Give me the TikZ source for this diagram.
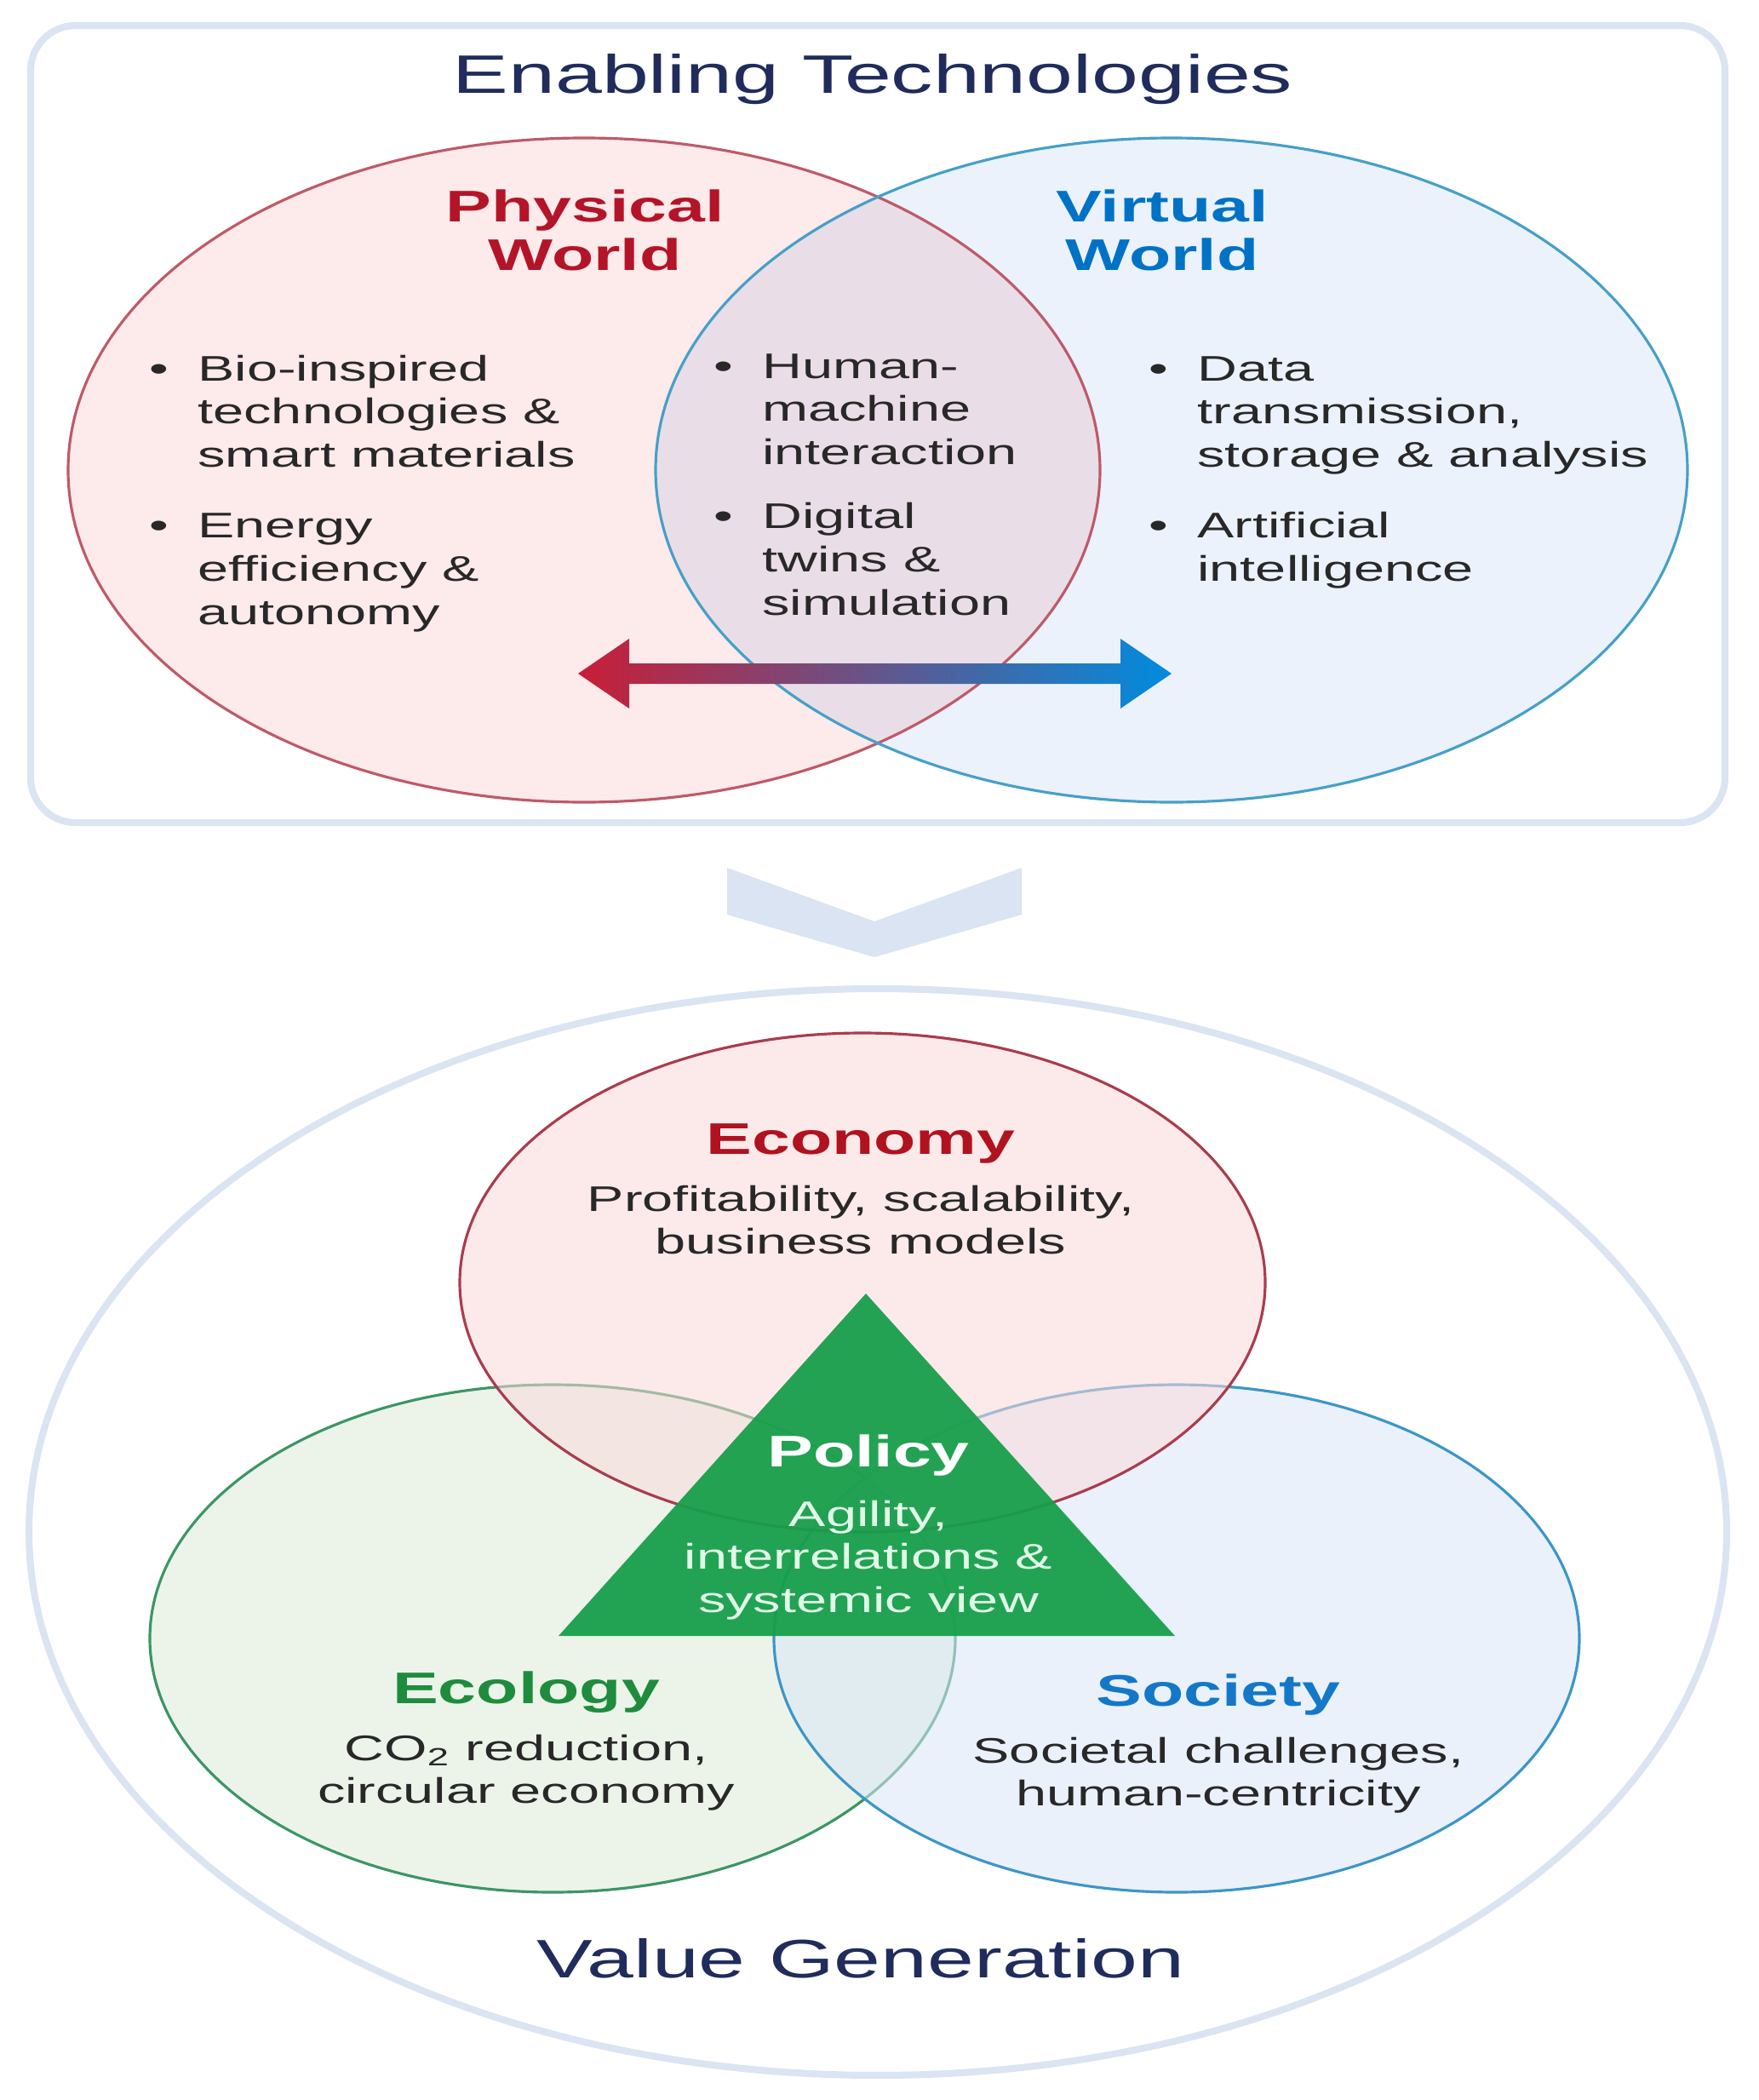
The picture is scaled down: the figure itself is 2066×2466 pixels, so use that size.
\documentclass[tikz,border=0pt]{standalone}
\usepackage{fontspec}
\setmainfont{Liberation Sans}[FakeStretch=1.55]
\definecolor{navy}{RGB}{31,44,92}
\definecolor{textc}{RGB}{40,40,40}
\definecolor{framec}{RGB}{218,228,242}
\definecolor{physred}{RGB}{180,20,40}
\definecolor{virtblue}{RGB}{0,114,198}
\definecolor{physc}{RGB}{190,90,105}
\definecolor{virtc}{RGB}{70,160,200}
\definecolor{physf}{RGB}{253,234,235}
\definecolor{virtf}{RGB}{235,242,251}
\definecolor{arrred}{RGB}{200,30,55}
\definecolor{arrblue}{RGB}{0,140,222}
\definecolor{econred}{RGB}{176,18,32}
\definecolor{ecogreen}{RGB}{30,140,60}
\definecolor{socblue}{RGB}{20,120,200}
\definecolor{econc}{RGB}{170,60,78}
\definecolor{ecoc}{RGB}{60,150,100}
\definecolor{socc}{RGB}{60,150,200}
\definecolor{econf}{RGB}{250,217,217}
\definecolor{ecof}{RGB}{220,235,217}
\definecolor{socf}{RGB}{217,230,248}
\definecolor{policyc}{RGB}{22,158,74}
\definecolor{poltext}{RGB}{225,250,232}
\newcommand{\titlefont}{\fontsize{18.1}{21}\selectfont}
\newcommand{\headfont}{\fontsize{14.8}{16.5}\selectfont\bfseries}
\newcommand{\bodyfont}{\fontsize{11.9}{14.5}\selectfont}
\newcommand{\stack}[1]{\begin{tabular}[t]{@{}c@{}}#1\end{tabular}}
\newcommand{\blist}[1]{\begin{tabular}[t]{@{}l@{\hspace{9.7pt}}l@{}}#1\end{tabular}}

\begin{document}
\begin{tikzpicture}[x=0.1mm, y=-0.1mm,
    frame/.style={draw=framec, line width=2.3pt},
    venn/.style={line width=0.9pt},
    circ/.style={line width=0.9pt, fill opacity=0.55},
    title/.style={font=\titlefont, text=navy, inner sep=0pt, anchor=base},
    head/.style={font=\headfont, inner sep=0pt, anchor=base},
    body/.style={font=\bodyfont, text=textc, inner sep=0pt, anchor=base},
    items/.style={font=\bodyfont, text=textc, inner sep=0pt, anchor=base west}]
  \useasboundingbox (0,0) rectangle (2066,2466);

  % enabling technologies
  \draw[frame, rounded corners=15pt] (36,30) rectangle (2026,966);
  \begin{scope}[blend mode=multiply]
    \fill[physf] (686,552) ellipse [x radius=606, y radius=390];
    \fill[virtf] (1376,552) ellipse [x radius=606, y radius=390];
  \end{scope}
  \draw[venn, physc] (686,552) ellipse [x radius=606, y radius=390];
  \draw[venn, virtc] (1376,552) ellipse [x radius=606, y radius=390];

  \node[title] (enab) at (1025,110) {Enabling Technologies};
  \node[head, text=physred] (phys) at (687,260) {\stack{Physical\\World}};
  \node[head, text=virtblue] (virt) at (1365,260) {\stack{Virtual\\World}};

  \node[items] (physL) at (175,447) {\blist{\textbullet & Bio-inspired\\
      & technologies \&\\ & smart materials\\[9pt]
      \textbullet & Energy\\ & efficiency \&\\ & autonomy}};
  \node[items] (both) at (838,444) {\blist{\textbullet & Human-\\
      & machine\\ & interaction\\[6.7pt]
      \textbullet & Digital\\ & twins \&\\ & simulation}};
  \node[items] (virtL) at (1349,447) {\blist{\textbullet & Data\\
      & transmission,\\ & storage \& analysis\\[9pt]
      \textbullet & Artificial\\ & intelligence}};

  \coordinate (arrL) at (679,791);
  \coordinate (arrR) at (1376,791);
  \shade[left color=arrred, right color=arrblue]
    (arrL) -- ++(60,-41) -- ++(0,29) -- ++(577,0) -- ++(0,-29)
    -- (arrR) -- ++(-60,41) -- ++(0,-29) -- ++(-577,0) -- ++(0,29) -- cycle;

  \fill[framec] (854,1019) -- (1027,1082) -- (1200,1019)
    -- (1200,1074) -- (1027,1124) -- (854,1074) -- cycle;

  % value generation
  \draw[frame] (1031,1799) ellipse [x radius=997, y radius=638];
  \draw[circ, ecoc, fill=ecof] (649,1924) ellipse [x radius=473, y radius=298];
  \draw[circ, socc, fill=socf] (1382,1924) ellipse [x radius=473, y radius=298];
  \draw[circ, econc, fill=econf] (1013,1506) ellipse [x radius=473, y radius=293];
  \fill[policyc, fill opacity=0.94] (1017,1519) -- (1380,1921) -- (656,1921) -- cycle;

  \node[head, text=econred] (econ) at (1011,1355) {Economy};
  \node[body] (econT) at (1011,1422) {\stack{Profitability, scalability,\\business models}};
  \node[head, text=white] (pol) at (1020,1722) {Policy};
  \node[body, text=poltext] (polT) at (1020,1792) {\stack{Agility,\\interrelations \&\\systemic view}};
  \node[head, text=ecogreen] (ecol) at (618,2000) {Ecology};
  \node[body] (ecolT) at (618,2067) {\stack{CO\textsubscript{2} reduction,\\circular economy}};
  \node[head, text=socblue] (soc) at (1431,2003) {Society};
  \node[body] (socT) at (1431,2070) {\stack{Societal challenges,\\human-centricity}};
  \node[title] (valgen) at (1011,2322) {Value Generation};
\end{tikzpicture}
\end{document}
